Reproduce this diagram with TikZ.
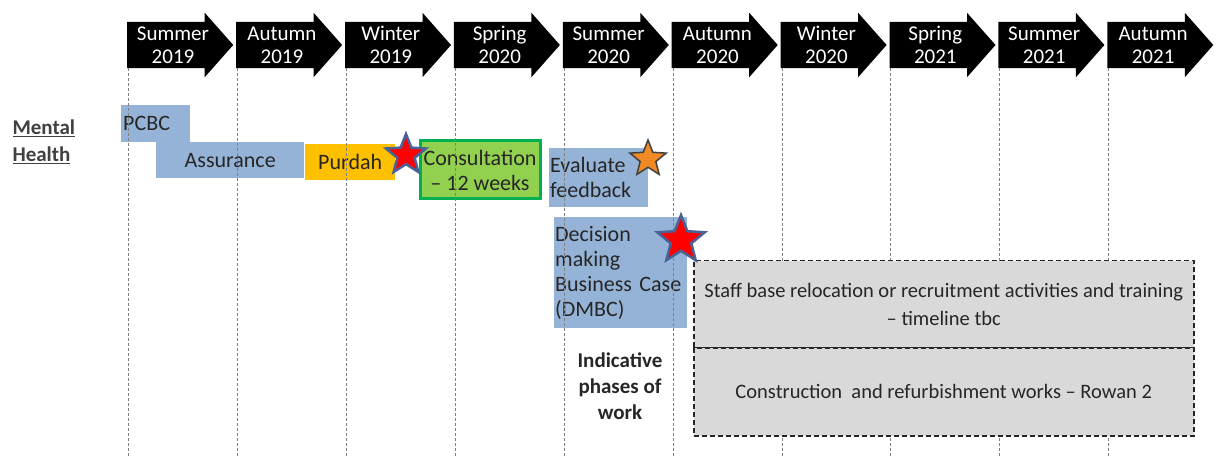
\documentclass[tikz,border=0pt]{standalone}
\usepackage{fontspec}
\setmainfont{Carlito}
\usetikzlibrary{positioning}
\usetikzlibrary{shapes.geometric}
\usetikzlibrary{shapes.arrows}
\definecolor{phase colour}{HTML}{95B3D7}
\definecolor{purdah colour}{HTML}{FFC000}
\definecolor{consult colour}{HTML}{92D050}
\definecolor{consult edge}{HTML}{00B050}
\definecolor{tbc colour}{HTML}{D9D9D9}
\definecolor{star edge}{HTML}{4A6296}
\definecolor{milestone colour}{HTML}{F08A24}
\colorlet{text colour}{black!85}
\colorlet{guide colour}{black!50}
\tikzset{
    % Define a set of styles
    % First some fills
    phase fill/.style={fill=phase colour},
    purdah fill/.style={fill=purdah colour},
    tbc fill/.style={fill=tbc colour},
    % Next some lines
    guide/.style={color=guide colour, line width=0.8pt, dash pattern=on 3pt off 2pt},
    tbc edge/.style={draw=black!85, line width=1.5pt, dash pattern=on 5pt off 3pt},
%
    % Text sizes in the boxes
    box font/.style={font=\fontsize{22}{25}\selectfont, text=text colour},
    % We almost always want centre aligned node text
    every node/.style={align=center},
}

\begin{document}
\begin{tikzpicture}[x=1pt, y=-1pt,
    season/.style={
        single arrow, fill=black, anchor=west,
        inner xsep=0, inner ysep=23pt,
        minimum height=106, minimum width=64,
        single arrow head extend=9pt, single arrow tip angle=97},
    season text/.style={text=white, font=\fontsize{21}{23}\selectfont},
    phase/.style={rectangle, anchor=north west, inner sep=0, box font},
    milestone/.style={star, star points=5, star point ratio=2.3, inner sep=0},
    ]

\useasboundingbox (0,0) rectangle (1216,457);
\coordinate (base) at (0,457);

% the seasons along the top
\foreach \sname/\syear [count=\i from 0] in {Summer/2019, Autumn/2019,
        Winter/2019, Spring/2020, Summer/2020, Autumn/2020, Winter/2020,
        Spring/2021, Summer/2021, Autumn/2021}
    \path (127+108.9*\i,45) node (s\i) [season] {}
        +(46,0) node (t\i) [season text] {\sname\\\syear}
        +(1.5,23) coordinate (g\i);

\node (mh) [anchor=west, align=left, text=black!75,
    font=\fontsize{21}{27}\selectfont\bfseries] at (9,142)
    {\underline{Mental}\\\underline{Health}};

\path
    (121,105) node (pcbc) [phase, phase fill, minimum height=37,
        text width=65, inner xsep=2pt, align=left] {PCBC}
    (156,142) node (assurance) [phase, phase fill,
        minimum width=148, minimum height=36] {Assurance}
    (305,144) node (purdah) [phase, purdah fill,
        minimum width=90, minimum height=36] {Purdah}
    (418.5,139.5) node (consult) [phase, fill=consult colour,
        draw=consult edge, line width=3pt,
        minimum width=120, minimum height=58] {Consultation\\-- 12 weeks}
    (549,148) node (evaluate) [phase, phase fill, minimum height=59,
        text width=97, inner xsep=1pt, align=left] {Evaluate\\feedback}
    (554,217) node (dmbc) [phase, phase fill, minimum height=111,
        text width=131, inner xsep=1pt, align=left]
        {Decision\\making\\Business Case\\(DMBC)};

\node (phases) [font=\fontsize{21}{26}\selectfont\bfseries, text=text colour]
    at (620,386) {Indicative\\phases of\\work};

% guide lines down from each season
\foreach \i in {0,...,9}
    \draw [guide] (g\i) -- (g\i |- base);

\path
    (693,260) node (staff) [phase, tbc fill, tbc edge,
        minimum width=500, minimum height=87,
        font=\fontsize{20.5}{28}\selectfont]
        {Staff base relocation or recruitment activities and training\\-- timeline tbc}
    (693,347) node (rowan) [phase, tbc fill, tbc edge,
        minimum width=500, minimum height=88,
        font=\fontsize{20.5}{28}\selectfont]
        {Construction\ \ and refurbishment works -- Rowan 2};

% milestones
\node (star1) [milestone, fill=red, draw=star edge, line width=2.5pt,
    minimum size=42] at (406,155) {};
\node (star2) [milestone, fill=milestone colour, draw=black!75, line width=1.5pt,
    minimum size=38] at (648,159) {};
\node (star3) [milestone, fill=red, draw=star edge, line width=2.5pt,
    minimum size=50] at (681,240) {};

\end{tikzpicture}
\end{document}
